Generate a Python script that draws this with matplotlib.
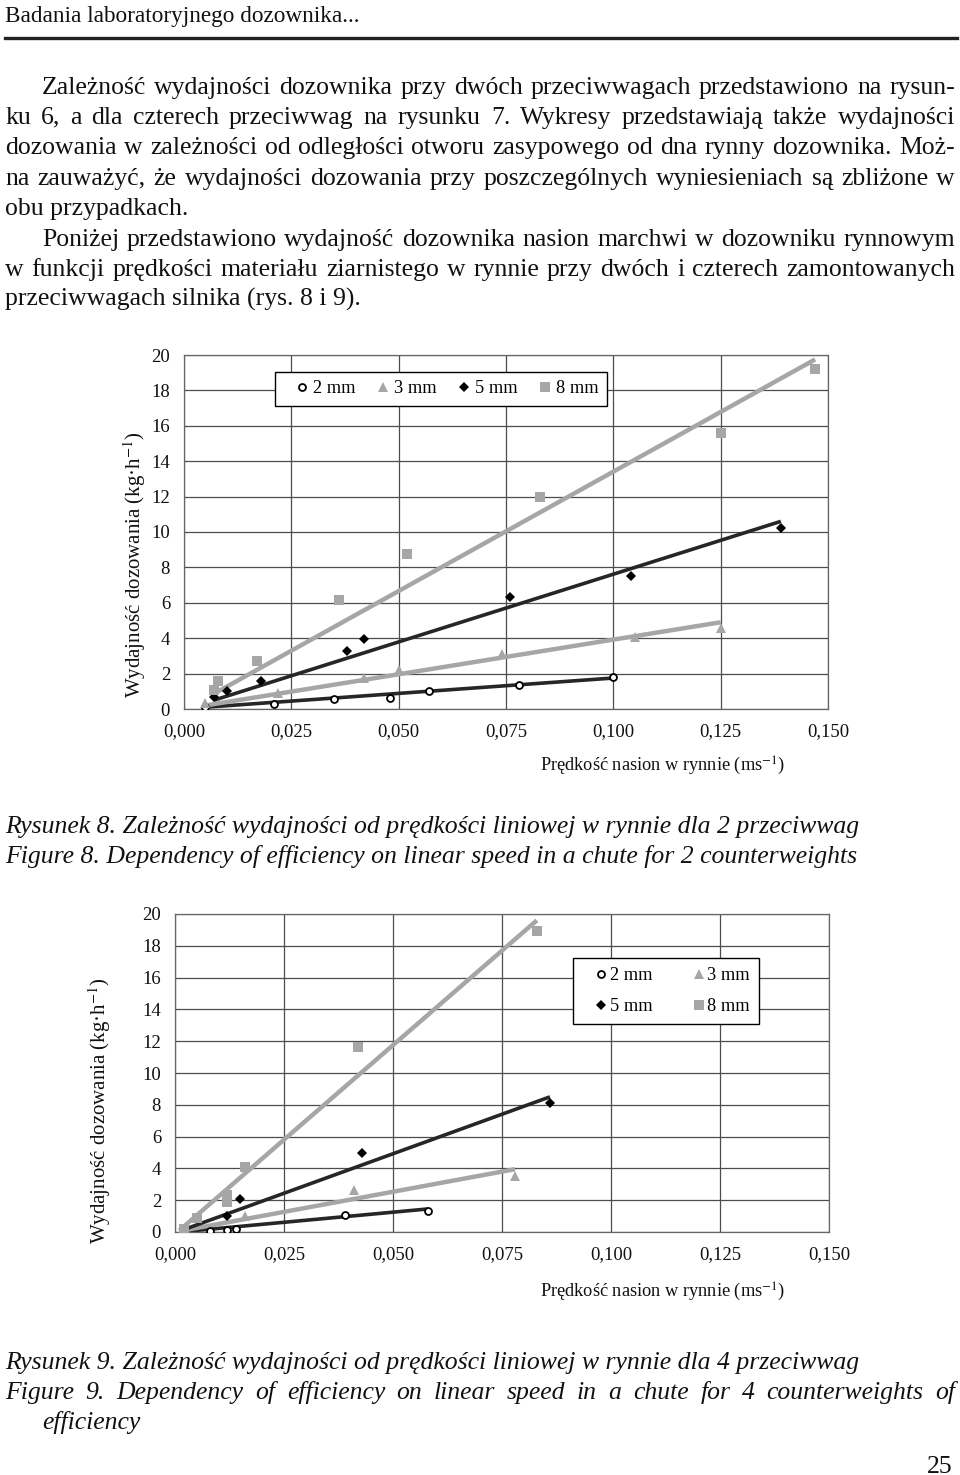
import matplotlib
matplotlib.use("Agg")
import matplotlib.pyplot as plt
from matplotlib.lines import Line2D
from matplotlib.ticker import FuncFormatter

plt.rcParams['mathtext.fontset'] = 'stix'

W, H = 960, 1475

# ---------------- data ----------------
header = "Badania laboratoryjnego dozownika..."
para1 = [
    "Zależność wydajności dozownika przy dwóch przeciwwagach przedstawiono na rysun-",
    "ku 6, a dla czterech przeciwwag na rysunku 7. Wykresy przedstawiają także wydajności",
    "dozowania w zależności od odległości otworu zasypowego od dna rynny dozownika. Moż-",
    "na zauważyć, że wydajności dozowania przy poszczególnych wyniesieniach są zbliżone w",
    "obu przypadkach.",
]
para2 = [
    "Poniżej przedstawiono wydajność dozownika nasion marchwi w dozowniku rynnowym",
    "w funkcji prędkości materiału ziarnistego w rynnie przy dwóch i czterech zamontowanych",
    "przeciwwagach silnika (rys. 8 i 9).",
]
cap8 = ["Rysunek 8. Zależność wydajności od prędkości liniowej w rynnie dla 2 przeciwwag",
        "Figure 8. Dependency of efficiency on linear speed in a chute for 2 counterweights"]
cap9 = ["Rysunek 9. Zależność wydajności od prędkości liniowej w rynnie dla 4 przeciwwag",
        "Figure 9. Dependency of efficiency on linear speed  in a chute for 4 counterweights of",
        "efficiency"]
page_no = "25"

labels = ["2 mm", "3 mm", "5 mm", "8 mm"]
xticks = [0.0, 0.025, 0.05, 0.075, 0.1, 0.125, 0.15]
yticks = [0, 2, 4, 6, 8, 10, 12, 14, 16, 18, 20]
ylabel = "Wydajność dozowania (kg·h$^{-1}$)"
xlabel = "Prędkość nasion w rynnie (ms$^{-1}$)"

# Figure 8 (2 counterweights)
f8_x2 = [0.005, 0.021, 0.035, 0.048, 0.057, 0.078, 0.100]
f8_y2 = [0.1, 0.3, 0.55, 0.62, 1.0, 1.35, 1.8]
f8_x3 = [0.005, 0.022, 0.042, 0.050, 0.074, 0.105, 0.125]
f8_y3 = [0.35, 0.9, 1.75, 2.2, 3.1, 4.05, 4.6]
f8_x5 = [0.007, 0.010, 0.018, 0.038, 0.042, 0.076, 0.104, 0.139]
f8_y5 = [0.65, 1.0, 1.6, 3.3, 3.95, 6.3, 7.5, 10.2]
f8_x8 = [0.007, 0.008, 0.017, 0.036, 0.052, 0.083, 0.125, 0.147]
f8_y8 = [1.1, 1.6, 2.7, 6.15, 8.75, 12.0, 15.6, 19.2]
f8_fit_x = [[0.005, 0.100], [0.005, 0.125], [0.007, 0.139], [0.008, 0.147]]
f8_fit_y = [[0.1, 1.75], [0.2, 4.9], [0.5, 10.6], [1.0, 19.75]]

# Figure 9 (4 counterweights)
f9_x2 = [0.002, 0.008, 0.012, 0.014, 0.039, 0.058]
f9_y2 = [0.0, 0.05, 0.12, 0.2, 1.1, 1.35]
f9_x3 = [0.002, 0.016, 0.041, 0.078]
f9_y3 = [0.1, 1.0, 2.65, 3.55]
f9_x5 = [0.002, 0.012, 0.015, 0.043, 0.086]
f9_y5 = [0.05, 1.0, 2.1, 5.0, 8.1]
f9_x8 = [0.002, 0.005, 0.012, 0.012, 0.016, 0.042, 0.083]
f9_y8 = [0.2, 0.85, 1.9, 2.3, 4.1, 11.65, 18.9]
f9_fit_x = [[0.001, 0.058], [0.001, 0.078], [0.001, 0.086], [0.001, 0.083]]
f9_fit_y = [[0.0, 1.45], [0.05, 3.95], [0.05, 8.5], [0.1, 19.6]]

# ---------------- styles ----------------
LIGHT = "#a6a6a6"
DARK = "#262626"
mstyle = [
    dict(marker="o", mfc="white", mec="black", ms=5, mew=1.3),
    dict(marker="^", mfc=LIGHT, mec=LIGHT, ms=7, mew=0),
    dict(marker="D", mfc="black", mec="black", ms=5, mew=0),
    dict(marker="s", mfc=LIGHT, mec=LIGHT, ms=6.5, mew=0),
]
lstyle = [dict(color=DARK, lw=2.6), dict(color=LIGHT, lw=3.2),
          dict(color=DARK, lw=2.6), dict(color=LIGHT, lw=3.2)]

fig = plt.figure(figsize=(W / 100, H / 100), dpi=100)
renderer = fig.canvas.get_renderer()

SERIF = "Liberation Serif"
INK = "#111111"


def fy(y):
    return 1 - y / H


def fx(x):
    return x / W


def measure(s, size, **kw):
    t = fig.text(0, 0, s, fontsize=size, **kw)
    w = t.get_window_extent(renderer).width
    t.remove()
    return w


def fit_size(pairs, **kw):
    vals = [20 * target / measure(s, 20, **kw) for s, target in pairs]
    return sum(vals) / len(vals)


body_size = fit_size([(para1[-1], 183), (para2[-1], 357)], family=SERIF)
cap_size = fit_size([(cap8[0], 857), (cap8[1], 857)], family=SERIF, style="italic")
head_size = fit_size([(header, 355)], family=SERIF)

BODY = dict(family=SERIF, fontsize=body_size, color=INK)
CAP = dict(family=SERIF, fontsize=cap_size, style="italic", color=INK)


def put(x, y, s, **kw):
    em = kw["fontsize"] * 100 / 72
    return fig.text(fx(x), fy(y + 0.3 * em), s, va="baseline", ha="left", **kw)


def justify(line, x0, x1, y, **kw):
    words = line.split()
    ts = [put(x0, y, w, **kw) for w in words]
    widths = [t.get_window_extent(renderer).width for t in ts]
    gap = (x1 - x0 - sum(widths)) / max(len(words) - 1, 1)
    x = x0
    for t, w in zip(ts, widths):
        t.set_x(fx(x))
        x += w + gap


# header
put(5, 15, header, family=SERIF, fontsize=head_size, color=INK)
fig.add_artist(Line2D([fx(5), fx(957)], [fy(38), fy(38)], color="#222222", lw=2.4))

# paragraphs
for para, ys in ((para1, [86, 116, 146, 177, 207]), (para2, [238, 268, 298])):
    for i, (line, y) in enumerate(zip(para, ys)):
        x0 = 42 if i == 0 else 5
        if i == len(para) - 1:
            put(x0, y, line, **BODY)
        else:
            justify(line, x0, 955, y, **BODY)

# captions
put(5, 825, cap8[0], **CAP)
put(5, 855, cap8[1], **CAP)
put(5, 1361, cap9[0], **CAP)
justify(cap9[1], 5, 955, 1391, **CAP)
put(42, 1421, cap9[2], **CAP)
fig.text(fx(952), fy(1465 + 0.3 * body_size * 100 / 72), page_no, ha="right",
         va="baseline", **BODY)


def make_chart(rect_px, xs, ys, fit_x, fit_y, ylab_xy, xlab_xy, legend_px, ncol,
               leg_kw):
    x0, x1, top, bot = rect_px
    ax = fig.add_axes([fx(x0), fy(bot), (x1 - x0) / W, (bot - top) / H])
    ax.set_xlim(0, 0.15)
    ax.set_ylim(0, 20)
    ax.set_xticks(xticks)
    ax.set_yticks(yticks)
    ax.xaxis.set_major_formatter(FuncFormatter(lambda v, p: f"{v:.3f}".replace(".", ",")))
    ax.grid(True, color="#4d4d4d", lw=0.9)
    ax.set_axisbelow(True)
    for s in ax.spines.values():
        s.set_color("#666666")
        s.set_linewidth(0.9)
    ax.tick_params(length=0, labelsize=13.5, colors=INK)
    ax.tick_params(axis="x", pad=10)
    ax.tick_params(axis="y", pad=10)
    for lab in ax.get_xticklabels() + ax.get_yticklabels():
        lab.set_family(SERIF)
    handles = []
    for i in range(4):
        ax.plot(fit_x[i], fit_y[i], solid_capstyle="butt", zorder=2, **lstyle[i])
    for i in range(4):
        h, = ax.plot(xs[i], ys[i], ls="none", zorder=3, label=labels[i], **mstyle[i])
        handles.append(h)
    fig.text(fx(ylab_xy[0]), fy(ylab_xy[1]), ylabel, rotation=90, ha="center",
             va="center", family=SERIF, fontsize=15, color=INK)
    fig.text(fx(xlab_xy[0]), fy(xlab_xy[1]), xlabel, ha="left", va="center",
             family=SERIF, fontsize=13.2, color=INK)
    lx0, ly0 = legend_px
    if ncol == 4:
        order = handles
    else:
        order = [handles[0], handles[2], handles[1], handles[3]]
    leg = fig.legend(handles=order, labels=[h.get_label() for h in order], ncol=ncol,
                     loc="upper left", bbox_to_anchor=(fx(lx0), fy(ly0)),
                     bbox_transform=fig.transFigure, frameon=True, fancybox=False,
                     edgecolor="black", framealpha=1, borderaxespad=0,
                     prop=dict(family=SERIF, size=13.2), **leg_kw)
    leg.get_frame().set_linewidth(1.0)
    return ax


make_chart((184, 828, 355, 709),
           [f8_x2, f8_x3, f8_x5, f8_x8], [f8_y2, f8_y3, f8_y5, f8_y8],
           f8_fit_x, f8_fit_y, (135, 565), (540, 766), (275, 372), 4,
           dict(handlelength=2.0, handletextpad=-0.4, columnspacing=0.5,
                borderpad=0.45))
make_chart((175, 829, 914, 1232),
           [f9_x2, f9_x3, f9_x5, f9_x8], [f9_y2, f9_y3, f9_y5, f9_y8],
           f9_fit_x, f9_fit_y, (100, 1111), (540, 1292), (573, 958), 2,
           dict(handlelength=2.1, handletextpad=-0.6, columnspacing=1.5,
                borderpad=0.5, labelspacing=0.75))

fig.savefig("out.png", dpi=100)
